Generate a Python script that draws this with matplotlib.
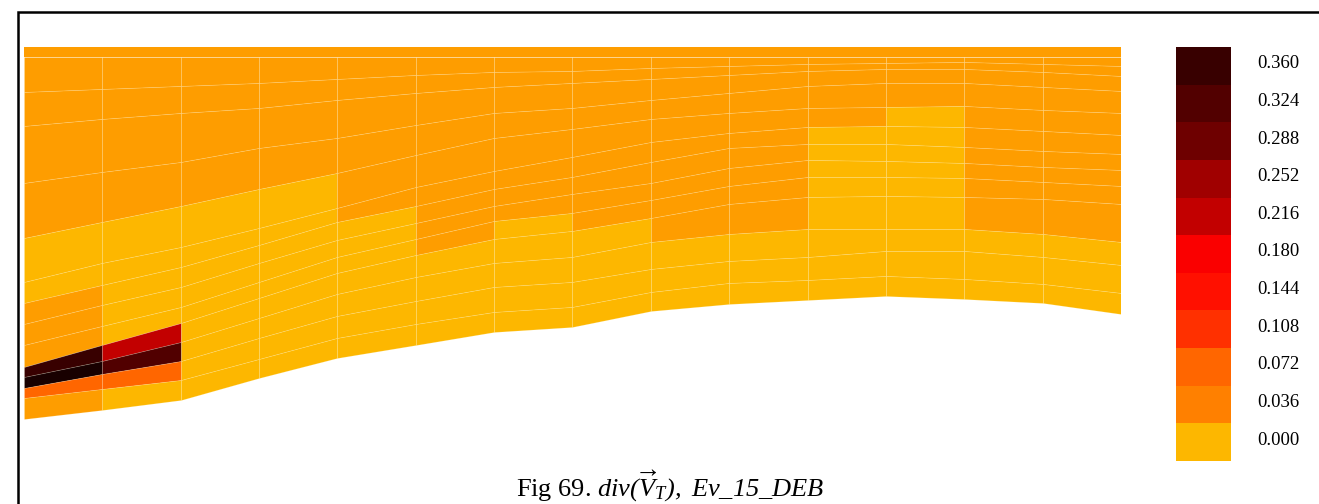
import numpy as np
import matplotlib
matplotlib.use('Agg')
import matplotlib.pyplot as plt
from matplotlib.colors import ListedColormap, LinearSegmentedColormap, BoundaryNorm, Normalize
from matplotlib.colorbar import ColorbarBase
from matplotlib.patches import Rectangle
from matplotlib.transforms import ScaledTranslation

plt.rcParams['font.family'] = ['Liberation Serif', 'DejaVu Serif']
plt.rcParams['mathtext.fontset'] = 'custom'
plt.rcParams['mathtext.rm'] = 'Liberation Serif:italic'
plt.rcParams['mathtext.it'] = 'Liberation Serif:italic'


# 1. DONNEES DU MAILLAGE (verticales du profil, profondeur des noeuds)

profil = [0, 1, 2, 3, 4, 5, 6, 7, 8, 9, 10, 11, 12, 13, 14]

# profondeur des noeuds pour chaque verticale (surface -> fond)
prof_noeuds = [
    [10, 45, 79, 136, 191, 235, 256, 277, 298, 320, 330, 341, 351, 372],
    [10, 42, 72, 125, 175, 216, 238, 258, 279, 298, 314, 327, 342, 363],
    [10, 39, 66, 115, 159, 200, 220, 240, 260, 276, 295, 314, 333, 353],
    [10, 36, 61, 101, 142, 181, 198, 216, 235, 251, 271, 291, 312, 331],
    [10, 32, 53, 91, 126, 161, 175, 193, 210, 226, 247, 269, 291, 311],
    [10, 28, 46, 78, 108, 140, 159, 176, 192, 208, 230, 254, 277, 298],
    [10, 25, 40, 66, 91, 124, 142, 159, 174, 192, 216, 240, 265, 285],
    [10, 24, 36, 61, 82, 110, 130, 147, 166, 184, 210, 235, 260, 280],
    [10, 21, 32, 53, 72, 95, 115, 136, 153, 171, 195, 222, 245, 264],
    [10, 19, 28, 46, 66, 86, 101, 121, 139, 157, 187, 214, 236, 257],
    [10, 17, 24, 39, 61, 80, 97, 113, 130, 150, 182, 210, 233, 253],
    [10, 16, 22, 36, 60, 79, 97, 114, 130, 149, 182, 204, 229, 249],
    [10, 15, 22, 36, 59, 80, 100, 116, 131, 150, 182, 204, 232, 252],
    [10, 17, 25, 40, 63, 84, 104, 120, 135, 152, 187, 210, 237, 256],
    [10, 19, 29, 44, 66, 88, 107, 123, 139, 157, 195, 218, 246, 267],
]

# couche de surface (sans maillage visible)
couche_surface = [0, 10]
div_surface = 0.018

# 2. VALEURS DE div(V_T) PAR MAILLE (par colonne, surface -> fond)

div_vt = [
    [0.018, 0.018, 0.018, 0.018, 0.000, 0.000, 0.018, 0.018, 0.018, 0.360, 0.400, 0.072, 0.018],
    [0.018, 0.018, 0.018, 0.018, 0.000, 0.000, 0.000, 0.000, 0.000, 0.216, 0.324, 0.072, 0.000],
    [0.018, 0.018, 0.018, 0.018, 0.000, 0.000, 0.000, 0.000, 0.000, 0.000, 0.000, 0.000, 0.000],
    [0.018, 0.018, 0.018, 0.018, 0.000, 0.000, 0.000, 0.000, 0.000, 0.000, 0.000, 0.000, 0.000],
    [0.018, 0.018, 0.018, 0.018, 0.018, 0.018, 0.000, 0.000, 0.000, 0.000, 0.000, 0.000, 0.000],
    [0.018, 0.018, 0.018, 0.018, 0.018, 0.018, 0.018, 0.018, 0.018, 0.000, 0.000, 0.000, 0.000],
    [0.018, 0.018, 0.018, 0.018, 0.018, 0.018, 0.018, 0.018, 0.000, 0.000, 0.000, 0.000, 0.000],
    [0.018, 0.018, 0.018, 0.018, 0.018, 0.018, 0.018, 0.018, 0.018, 0.000, 0.000, 0.000, 0.000],
    [0.018, 0.018, 0.018, 0.018, 0.018, 0.018, 0.018, 0.018, 0.018, 0.018, 0.000, 0.000, 0.000],
    [0.018, 0.018, 0.018, 0.018, 0.018, 0.018, 0.018, 0.018, 0.018, 0.018, 0.000, 0.000, 0.000],
    [0.018, 0.018, 0.018, 0.018, 0.018, 0.000, 0.000, 0.000, 0.000, 0.000, 0.000, 0.000, 0.000],
    [0.018, 0.018, 0.018, 0.018, 0.000, 0.000, 0.000, 0.000, 0.000, 0.000, 0.000, 0.000, 0.000],
    [0.018, 0.018, 0.018, 0.018, 0.018, 0.018, 0.018, 0.018, 0.018, 0.018, 0.000, 0.000, 0.000],
    [0.018, 0.018, 0.018, 0.018, 0.018, 0.018, 0.018, 0.018, 0.018, 0.018, 0.000, 0.000, 0.000],
]

# 3. ECHELLE DE COULEURS

niveaux = [0.000, 0.036, 0.072, 0.108, 0.144, 0.180, 0.216, 0.252, 0.288, 0.324, 0.360]
etiquettes = ['0.000', '0.036', '0.072', '0.108', '0.144', '0.180',
              '0.216', '0.252', '0.288', '0.324', '0.360']
couleurs = ['#FDB700', '#FF8000', '#FF6600', '#FF3000', '#FF1000', '#FA0000',
            '#C20000', '#A00000', '#6E0000', '#520000', '#380000']
couleur_max = '#180000'

cmap_champ = LinearSegmentedColormap.from_list(
    'champ', list(zip(np.array(niveaux) / niveaux[-1], couleurs)))
cmap_champ.set_over(couleur_max)
norm_champ = Normalize(vmin=niveaux[0], vmax=niveaux[-1])

# 4. FIGURE

W, H = 1319, 504
fig = plt.figure(figsize=(W / 100, H / 100), dpi=100)

ax = fig.add_axes([24 / W, 1 - 422 / H, (1121 - 24) / W, 375 / H])

X = np.tile(np.array(profil, dtype=float), (len(prof_noeuds[0]), 1))
Z = np.array(prof_noeuds, dtype=float).T
C = np.array(div_vt).T

# couche de surface
Xs = np.tile(np.array(profil, dtype=float), (2, 1))
Zs = np.array([[couche_surface[0]] * len(profil), [couche_surface[1]] * len(profil)], dtype=float)
Cs = np.full((1, len(profil) - 1), div_surface)
ax.pcolormesh(Xs, Zs, Cs, cmap=cmap_champ, norm=norm_champ, edgecolors='none', shading='flat')

ax.pcolormesh(X, Z, C, cmap=cmap_champ, norm=norm_champ, shading='flat',
              edgecolors=(1, 1, 0.85, 0.22), linewidth=0.5, antialiased=True)

ax.set_xlim(profil[0], profil[-1])
ax.set_ylim(375, 0)
ax.axis('off')

# barre de couleurs discrete
cax = fig.add_axes([1176 / W, 1 - 461 / H, 55 / W, 414 / H])
pas = niveaux[1] - niveaux[0]
bornes = [v - pas / 2 for v in niveaux] + [niveaux[-1] + pas / 2]
cb = ColorbarBase(cax, cmap=ListedColormap(couleurs), norm=BoundaryNorm(bornes, len(couleurs)),
                  ticks=niveaux, orientation='vertical')
cb.set_ticklabels(etiquettes)
cb.outline.set_visible(False)
cax.minorticks_off()
cax.tick_params(which='both', length=0, pad=19, labelsize=13.5)
decalage = ScaledTranslation(0, 4 / 100, fig.dpi_scale_trans)
for lab in cax.get_yticklabels():
    lab.set_transform(lab.get_transform() + decalage)

# legende de la figure
fig.text(670 / W, 1 - 497 / H,
         r'Fig 69. $div(\overrightarrow{V}_T),\ Ev\_15\_DEB$',
         ha='center', va='baseline', fontsize=19)

# cadre de la page
fig.patches.append(Rectangle((18 / W, -0.1), 1.2, 1.1 - 12 / H, transform=fig.transFigure,
                             fill=False, edgecolor='black', linewidth=1.8, clip_on=False))

fig.savefig('out.png', dpi=100)
